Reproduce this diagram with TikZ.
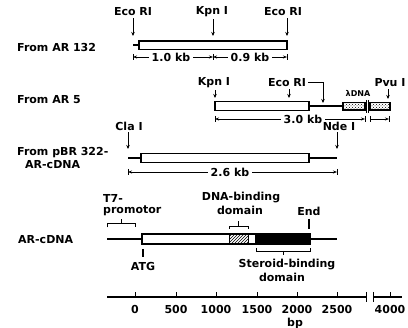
\documentclass[tikz,border=0pt]{standalone}
\usepackage{fontspec}
\setmainfont{DejaVu Sans}
\usetikzlibrary{arrows.meta,patterns}
\begin{document}
\begin{tikzpicture}[x=1pt,y=-1pt,
  lbl/.style={font=\bfseries\fontsize{11}{12}\selectfont, inner sep=0pt},
  small/.style={font=\bfseries\fontsize{8}{9}\selectfont, inner sep=0pt},
  dimlbl/.style={font=\bfseries\fontsize{11}{12}\selectfont, inner ysep=0pt, inner xsep=3pt},
  site/.style={line width=1pt,-{Stealth[length=4pt,width=3.5pt]}},
  barbox/.style={draw,line width=1.4pt},
  dna/.style={line width=1.2pt},
  dim/.style={line width=0.8pt,-{Stealth[length=4pt,width=3pt]}},
  tickline/.style={line width=0.9pt},
]
\useasboundingbox (0,0) rectangle (408,328);

% ---------- Row 1: From AR 132 ----------
\node[lbl,anchor=west] (r1) at (17,48) {From AR 132};
\node[lbl] (e1) at (133,12) {Eco RI};
\node[lbl] (k1) at (212,12) {Kpn I};
\node[lbl] (e2) at (283,12) {Eco RI};
\coordinate (e1t) at (133,36);
\coordinate (k1t) at (213,36);
\coordinate (e2t) at (287,36);
\draw[site,shorten <=2pt] (e1.south -| e1t) -- (e1t);
\draw[site,shorten <=2pt] (k1.south -| k1t) -- (k1t);
\draw[site,shorten <=2pt] (e2.south -| e2t) -- (e2t);
\draw[dna] (133,45) -- (139,45);
\draw[barbox,fill=white] (139,41) rectangle (287,49.5);
% dimensions
\node[dimlbl] (d10) at (171,57) {1.0 kb};
\node[dimlbl] (d09) at (250,57) {0.9 kb};
\coordinate (t1a) at (133,57);
\coordinate (t1b) at (213,57);
\coordinate (t1c) at (287,57);
\draw[dim] (d10.west) -- (t1a);
\draw[dim] (d10.east) -- (t1b);
\draw[dim] (d09.west) -- (t1b);
\draw[dim] (d09.east) -- (t1c);
\foreach \x in {133,213,287} \draw[tickline] (\x,54) -- (\x,60);

% ---------- Row 2: From AR 5 ----------
\node[lbl,anchor=west] (r2) at (17,100) {From AR 5};
\node[lbl] (k2) at (214,83) {Kpn I};
\node[lbl] (e3) at (287,83) {Eco RI};
\node[lbl] (p1) at (390,83) {Pvu I};
\node[small] (lam) at (358,93) {λDNA};
\coordinate (k2t) at (215,98);
\coordinate (e3t) at (289,98);
\coordinate (bendt) at (323,103);
\coordinate (p1t) at (388,99);
\draw[site,shorten <=2pt] (k2.south -| k2t) -- (k2t);
\draw[site,shorten <=2pt] (e3.south -| e3t) -- (e3t);
\draw[site,shorten <=2pt] (e3.east) -| (bendt);
\draw[site,shorten <=2pt] (p1.south -| p1t) -- (p1t);
\draw[barbox,fill=white] (215,101.5) rectangle (309,110.5);
\draw[dna] (309,106) -- (343,106);
\draw[line width=1.2pt,pattern=crosshatch dots] (343,102.5) rectangle (365,110);
\draw[line width=1.2pt,pattern=crosshatch dots] (370,102.5) rectangle (390,110);
\draw[line width=0.6pt] (366.5,100) -- (366.5,113);
\draw[line width=0.6pt] (368.5,100) -- (368.5,113);
% dimensions
\node[dimlbl] (d30) at (303,119) {3.0 kb};
\coordinate (t2a) at (215,119);
\coordinate (t2b) at (365,119);
\coordinate (t2c) at (370,119);
\coordinate (t2d) at (389,119);
\draw[dim] (d30.west) -- (t2a);
\draw[dim] (d30.east) -- (t2b);
\draw[dim] (t2c) -- (t2d);
\foreach \x in {215,365,370,389} \draw[tickline] (\x,116) -- (\x,122);

% ---------- Row 3: From pBR 322-AR-cDNA ----------
\node[lbl,anchor=west] (r3a) at (17,153) {From pBR 322-};
\node[lbl,anchor=west] (r3b) at (25,165) {AR-cDNA};
\node[lbl] (c1) at (129,126) {Cla I};
\node[lbl] (n1) at (339,126) {Nde I};
\coordinate (c1t) at (128,149);
\coordinate (n1t) at (337,149);
\draw[site,shorten <=2pt] (c1.south -| c1t) -- (c1t);
\draw[site,shorten <=2pt] (n1.south -| n1t) -- (n1t);
\draw[dna] (128,158) -- (141,158);
\draw[barbox,fill=white] (141,153.5) rectangle (309,162.5);
\draw[dna] (309,158) -- (337,158);
\node[dimlbl] (d26) at (230,172) {2.6 kb};
\coordinate (t3a) at (128,172);
\coordinate (t3b) at (337,172);
\draw[dim] (d26.west) -- (t3a);
\draw[dim] (d26.east) -- (t3b);
\foreach \x in {128,337} \draw[tickline] (\x,169) -- (\x,175);

% ---------- Row 4: AR-cDNA ----------
\node[lbl,anchor=west] (r4) at (18,240) {AR-cDNA};
\node[lbl,anchor=west] (t7a) at (103,198.5) {T7-};
\node[lbl,anchor=west] (t7b) at (103,210.5) {promotor};
\draw[tickline] (107,227.5) -- (107,223.5) -- (135,223.5) -- (135,227.5);
\draw[tickline] (121,223.5) -- (121,219.5);
\draw[dna] (107,239) -- (142,239);
\fill[white] (142,234) rectangle (229,244);
\fill[pattern=north east lines] (229,234) rectangle (248,244);
\fill[black] (255,234) rectangle (310,244);
\draw[barbox] (142,234) rectangle (310,244);
\draw[line width=1pt] (229,234) -- (229,244);
\draw[line width=1pt] (248,234) -- (248,244);
\draw[dna] (310,239) -- (337,239);
% ATG and End
\node[lbl] (atg) at (143,267) {ATG};
\draw[tickline,line width=1.2pt] (143,249) -- (143,257);
\node[lbl] (end) at (309,211) {End};
\draw[tickline,line width=1.2pt] (309,219) -- (309,229);
% DNA-binding domain
\node[lbl] (dbd1) at (241,197.5) {DNA-binding};
\node[lbl] (dbd2) at (240,210.5) {domain};
\draw[tickline] (229,229) -- (229,226) -- (248,226) -- (248,229);
\draw[tickline] (238.5,226) -- (238.5,221);
% Steroid-binding domain
\draw[tickline] (256,248) -- (256,251) -- (310,251) -- (310,248);
\draw[tickline] (283,251) -- (283,255);
\node[lbl] (sbd1) at (287,265) {Steroid-binding};
\node[lbl] (sbd2) at (282,277) {domain};

% ---------- Axis ----------
\draw[line width=1.2pt] (107,297) -- (366,297);
\draw[line width=1.2pt] (373,297) -- (402,297);
\draw[tickline] (366,292) -- (366,302);
\draw[tickline] (373,292) -- (373,302);
\foreach \x/\l in {135/0,176/500,216/1000,257/1500,297/2000,337/2500,390/4000}{
  \draw[tickline] (\x,297) -- (\x,292);
  \node[lbl] at (\x,309) {\l};
}
\node[lbl] (bp) at (295,323) {bp};
\end{tikzpicture}
\end{document}
